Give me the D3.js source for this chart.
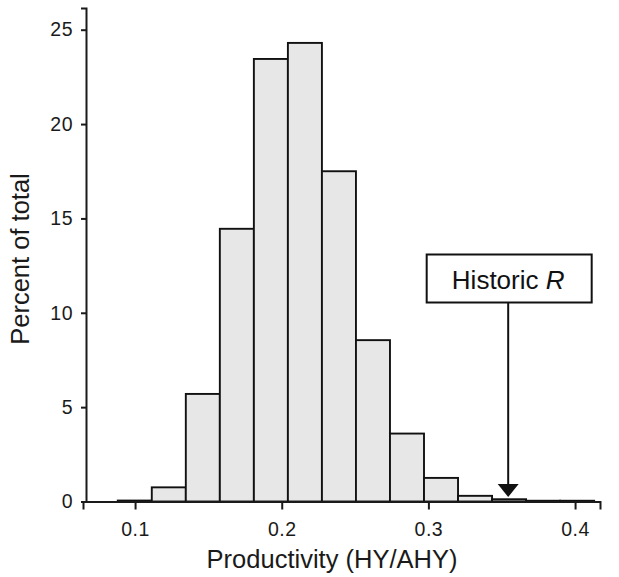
<!DOCTYPE html>
<html>
<head>
<meta charset="utf-8">
<script src="https://cdn.jsdelivr.net/npm/d3@7"></script>
<style>
  body { margin: 0; background: #fff; }
  svg { display: block; font-family: "Liberation Sans", Arial, Helvetica, sans-serif; }
</style>
</head>
<body>
<div id="chart"></div>
<script>
// histogram bins (productivity) and percent of total
const binStart = 0.0882;
const binWidth = 0.0232;
const percents = [0.05, 0.75, 5.7, 14.45, 23.45, 24.3, 17.5, 8.55, 3.6, 1.25, 0.3, 0.12, 0.04, 0.04];
const xTicks = [0.1, 0.2, 0.3, 0.4];
const yTicks = [0, 5, 10, 15, 20, 25];
const historicR = 0.3544;
const historicLabel = "Historic ";
const historicItalic = "R";

const width = 619, height = 577;

const bins = percents.map((p, i) => ({
  x0: binStart + i * binWidth,
  x1: binStart + (i + 1) * binWidth,
  value: p
}));

const svg = d3.select("#chart").append("svg")
  .attr("width", width)
  .attr("height", height);

const x = d3.scaleLinear().domain([0.0645, 0.417]).range([83, 600]);
const y = d3.scaleLinear().domain([0, 26.15]).range([501.5, 8]);

const axisX = 86;   // position of the y axis
const axisY = 501.5; // position of the x axis

// bars
svg.append("g")
  .selectAll("rect")
  .data(bins)
  .join("rect")
    .attr("x", d => x(d.x0))
    .attr("y", d => y(d.value))
    .attr("width", d => x(d.x1) - x(d.x0))
    .attr("height", d => y(0) - y(d.value))
    .attr("fill", "#e7e7e7")
    .attr("stroke", "#111")
    .attr("stroke-width", 1.9);

// x axis
const gx = svg.append("g")
  .attr("transform", `translate(0,${axisY})`)
  .call(d3.axisBottom(x).tickValues(xTicks).tickFormat(d3.format(".1f"))
    .tickSizeOuter(0).tickSize(8).tickPadding(13));

// y axis
const gy = svg.append("g")
  .attr("transform", `translate(${axisX},0)`)
  .call(d3.axisLeft(y).tickValues(yTicks).tickSizeOuter(0).tickSize(5).tickPadding(8));

[gx, gy].forEach(g => {
  g.attr("font-size", 19.5);
  g.select(".domain").attr("stroke", "#1a1a1a").attr("stroke-width", 2);
  g.selectAll(".tick line").attr("stroke", "#1a1a1a").attr("stroke-width", 2);
  g.selectAll(".tick text")
    .attr("fill", "#1a1a1a")
    .style("font-size", "19.5px")
    .style("letter-spacing", "0.5px")
    .style("font-family", "'Liberation Sans', Arial, sans-serif");
});

// axis titles
svg.append("text")
  .attr("x", 332)
  .attr("y", 568)
  .attr("text-anchor", "middle")
  .style("font-size", "25.5px")
  .attr("fill", "#1a1a1a")
  .text("Productivity (HY/AHY)");

svg.append("text")
  .attr("transform", "translate(28.5,259) rotate(-90)")
  .attr("text-anchor", "middle")
  .style("font-size", "25.5px")
  .attr("fill", "#1a1a1a")
  .text("Percent of total");

// historic R annotation
const hx = x(historicR);
const boxW = 165, boxH = 48, boxTop = 254.5;

svg.append("line")
  .attr("x1", hx).attr("x2", hx)
  .attr("y1", boxTop + boxH)
  .attr("y2", 486)
  .attr("stroke", "#111")
  .attr("stroke-width", 2);

svg.append("path")
  .attr("d", `M${hx - 10.5},484 L${hx + 10.5},484 L${hx},497 Z`)
  .attr("fill", "#111");

svg.append("rect")
  .attr("x", hx - boxW / 2 + 1)
  .attr("y", boxTop)
  .attr("width", boxW)
  .attr("height", boxH)
  .attr("fill", "#fff")
  .attr("stroke", "#111")
  .attr("stroke-width", 2);

const lbl = svg.append("text")
  .attr("x", hx)
  .attr("y", 288.5)
  .attr("text-anchor", "middle")
  .style("font-size", "26px")
  .attr("fill", "#111");
lbl.append("tspan").text(historicLabel);
lbl.append("tspan").style("font-style", "italic").text(historicItalic);
</script>
</body>
</html>
